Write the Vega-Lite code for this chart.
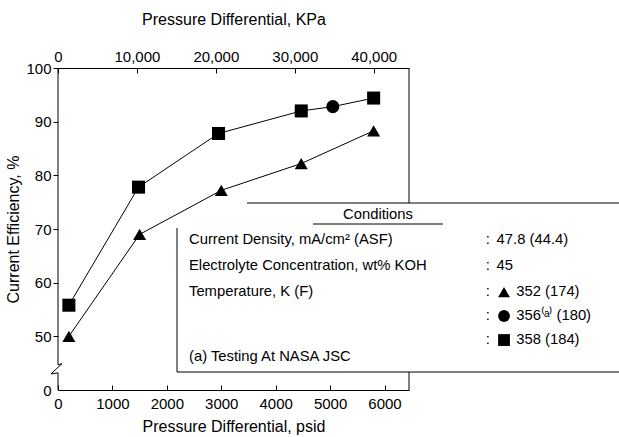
{
  "$schema": "https://vega.github.io/schema/vega-lite/v6.json",
  "width": 351,
  "height": 322,
  "autosize": {"type": "none"},
  "padding": {"left": 58, "top": 68, "right": 210, "bottom": 47},
  "background": "white",
  "config": {
    "view": {"stroke": null},
    "font": "Liberation Sans",
    "axis": {
      "labelFont": "Liberation Sans",
      "labelFontSize": 15,
      "labelColor": "black",
      "titleFont": "Liberation Sans",
      "titleFontSize": 16,
      "titleFontWeight": "normal",
      "titleColor": "black",
      "domainColor": "black",
      "tickColor": "black",
      "domainWidth": 1,
      "tickWidth": 1,
      "grid": false
    },
    "text": {"font": "Liberation Sans", "fontSize": 14.8, "color": "black", "baseline": "middle"}
  },
  "datasets": {
    "pts": [
      {"psid": 200, "eff": 50.0, "temp": "352", "curve": "lower"},
      {"psid": 1500, "eff": 69.0, "temp": "352", "curve": "lower"},
      {"psid": 3000, "eff": 77.2, "temp": "352", "curve": "lower"},
      {"psid": 4470, "eff": 82.2, "temp": "352", "curve": "lower"},
      {"psid": 5800, "eff": 88.3, "temp": "352", "curve": "lower"},
      {"psid": 200, "eff": 55.8, "temp": "358", "curve": "upper"},
      {"psid": 1480, "eff": 77.8, "temp": "358", "curve": "upper"},
      {"psid": 2950, "eff": 87.8, "temp": "358", "curve": "upper"},
      {"psid": 4470, "eff": 92.0, "temp": "358", "curve": "upper"},
      {"psid": 5050, "eff": 92.8, "temp": "356", "curve": "upper"},
      {"psid": 5800, "eff": 94.4, "temp": "358", "curve": "upper"}
    ],
    "key": [
      {"psid": 8196, "eff": 58.26, "temp": "352"},
      {"psid": 8196, "eff": 53.79, "temp": "356"},
      {"psid": 8196, "eff": 49.31, "temp": "358"}
    ],
    "frame": [
      {"psid": 6450, "eff": 100, "psid2": 6450, "eff2": 74.84},
      {"psid": 6450, "eff": 43.35, "psid2": 6450, "eff2": 40},
      {"psid": 3473, "eff": 74.84, "psid2": 10400, "eff2": 74.84},
      {"psid": 2187, "eff": 70.19, "psid2": 2187, "eff2": 43.35},
      {"psid": 2187, "eff": 43.35, "psid2": 10400, "eff2": 43.35},
      {"psid": 4686, "eff": 70.93, "psid2": 7075, "eff2": 70.93}
    ],
    "leftaxis": [
      {"seq": 1, "psid": 0, "eff": 100},
      {"seq": 2, "psid": 0, "eff": 44.7},
      {"seq": 3, "psid": 73, "eff": 44.9},
      {"seq": 4, "psid": -129, "eff": 43.0},
      {"seq": 5, "psid": 0, "eff": 43.2},
      {"seq": 6, "psid": 0, "eff": 40}
    ],
    "notes": [
      {"col": "heading", "psid": 5880, "eff": 72.61, "label": "Conditions"},
      {"col": "name", "psid": 2407, "eff": 67.95, "label": "Current Density, mA/cm² (ASF)"},
      {"col": "name", "psid": 2407, "eff": 63.10, "label": "Electrolyte Concentration, wt% KOH"},
      {"col": "name", "psid": 2407, "eff": 58.26, "label": "Temperature, K (F)"},
      {"col": "name", "psid": 2407, "eff": 46.15, "label": "(a)  Testing At NASA JSC"},
      {"col": "colon", "psid": 7900, "eff": 67.95, "label": ":"},
      {"col": "colon", "psid": 7900, "eff": 63.10, "label": ":"},
      {"col": "colon", "psid": 7900, "eff": 58.26, "label": ":"},
      {"col": "colon", "psid": 7900, "eff": 53.79, "label": ":"},
      {"col": "colon", "psid": 7900, "eff": 49.31, "label": ":"},
      {"col": "value", "psid": 8060, "eff": 67.95, "label": "47.8 (44.4)"},
      {"col": "value", "psid": 8060, "eff": 63.10, "label": "45"},
      {"col": "value", "psid": 8420, "eff": 58.26, "label": "352 (174)"},
      {"col": "value", "psid": 8420, "eff": 53.79, "label": "356⁽ᵃ⁾ (180)"},
      {"col": "value", "psid": 8420, "eff": 49.31, "label": "358 (184)"}
    ]
  },
  "layer": [
    {
      "data": {"name": "pts"},
      "mark": {"type": "line", "color": "black", "strokeWidth": 1},
      "encoding": {
        "x": {
          "field": "psid", "type": "quantitative",
          "scale": {"domain": [0, 6450], "nice": false, "zero": false},
          "axis": {
            "orient": "bottom",
            "title": "Pressure Differential, psid",
            "values": [0, 1000, 2000, 3000, 4000, 5000, 6000],
            "format": "d",
            "tickSize": -5,
            "labelPadding": 11,
            "labelFlush": false,
            "titlePadding": 7
          }
        },
        "y": {
          "field": "eff", "type": "quantitative",
          "scale": {"domain": [40, 100], "nice": false, "zero": false},
          "axis": {
            "title": "Current Efficiency, %",
            "values": [40, 50, 60, 70, 80, 90, 100],
            "labelExpr": "datum.value == 40 ? '0' : datum.label",
            "tickOpacity": {"condition": {"test": "datum.value == 40", "value": 0}, "value": 1},
            "domain": false,
            "tickSize": 5,
            "labelPadding": 2,
            "labelFlush": false,
            "titlePadding": 4
          }
        },
        "detail": {"field": "curve"}
      }
    },
    {
      "data": {"name": "pts"},
      "mark": {"type": "point", "filled": true, "color": "black", "opacity": 1, "size": 170},
      "encoding": {
        "x": {
          "field": "psid", "type": "quantitative",
          "scale": {"domain": [0, 6450], "nice": false, "zero": false},
          "axis": {
            "orient": "top",
            "title": "Pressure Differential, KPa",
            "values": [0, 1450.38, 2900.75, 4351.13, 5801.51],
            "labelExpr": "format(round(datum.value * 6.89476 / 100) * 100, ',')",
            "tickSize": -5,
            "labelPadding": 9,
            "labelFlush": false,
            "titlePadding": 22
          }
        },
        "y": {
          "field": "eff", "type": "quantitative",
          "scale": {"domain": [40, 100], "nice": false, "zero": false},
          "axis": null
        },
        "shape": {
          "field": "temp", "type": "nominal",
          "scale": {"domain": ["352", "356", "358"], "range": ["triangle-up", "circle", "square"]},
          "legend": null
        }
      }
    },
    {
      "data": {"name": "key"},
      "mark": {"type": "point", "filled": true, "color": "black", "opacity": 1, "size": 140},
      "encoding": {
        "x": {"field": "psid", "type": "quantitative", "scale": {"domain": [0, 6450], "nice": false, "zero": false}, "axis": null},
        "y": {"field": "eff", "type": "quantitative", "scale": {"domain": [40, 100], "nice": false, "zero": false}, "axis": null},
        "shape": {
          "field": "temp", "type": "nominal",
          "scale": {"domain": ["352", "356", "358"], "range": ["triangle-up", "circle", "square"]},
          "legend": null
        }
      }
    },
    {
      "data": {"name": "frame"},
      "mark": {"type": "rule", "color": "black", "strokeWidth": 1},
      "encoding": {
        "x": {"field": "psid", "type": "quantitative", "scale": {"domain": [0, 6450], "nice": false, "zero": false}, "axis": null},
        "y": {"field": "eff", "type": "quantitative", "scale": {"domain": [40, 100], "nice": false, "zero": false}, "axis": null},
        "x2": {"field": "psid2"},
        "y2": {"field": "eff2"}
      }
    },
    {
      "data": {"name": "leftaxis"},
      "mark": {"type": "line", "color": "black", "strokeWidth": 1},
      "encoding": {
        "x": {"field": "psid", "type": "quantitative", "scale": {"domain": [0, 6450], "nice": false, "zero": false}, "axis": null},
        "y": {"field": "eff", "type": "quantitative", "scale": {"domain": [40, 100], "nice": false, "zero": false}, "axis": null},
        "order": {"field": "seq", "type": "quantitative"}
      }
    },
    {
      "data": {"name": "notes"},
      "transform": [{"filter": "datum.col == 'name' || datum.col == 'value'"}],
      "mark": {"type": "text", "align": "left"},
      "encoding": {
        "x": {"field": "psid", "type": "quantitative", "scale": {"domain": [0, 6450], "nice": false, "zero": false}, "axis": null},
        "y": {"field": "eff", "type": "quantitative", "scale": {"domain": [40, 100], "nice": false, "zero": false}, "axis": null},
        "text": {"field": "label"}
      }
    },
    {
      "data": {"name": "notes"},
      "transform": [{"filter": "datum.col == 'heading' || datum.col == 'colon'"}],
      "mark": {"type": "text", "align": "center"},
      "encoding": {
        "x": {"field": "psid", "type": "quantitative", "scale": {"domain": [0, 6450], "nice": false, "zero": false}, "axis": null},
        "y": {"field": "eff", "type": "quantitative", "scale": {"domain": [40, 100], "nice": false, "zero": false}, "axis": null},
        "text": {"field": "label"}
      }
    }
  ],
  "resolve": {"axis": {"x": "independent", "y": "independent"}}
}
